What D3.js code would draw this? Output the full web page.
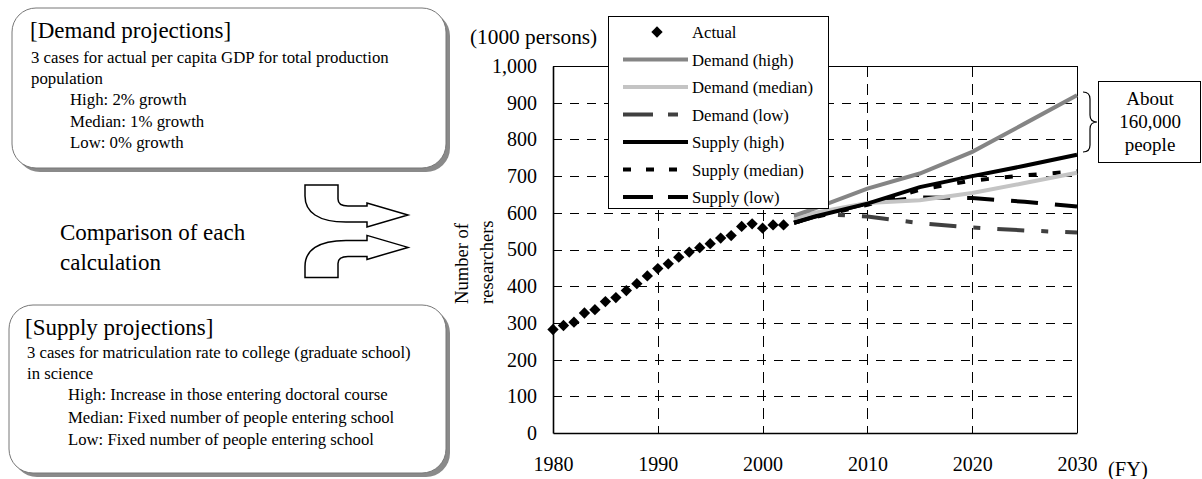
<!DOCTYPE html>
<html>
<head>
<meta charset="utf-8">
<script src="https://cdn.jsdelivr.net/npm/d3@7"></script>
<style>
  body { margin: 0; background: #fff; }
</style>
</head>
<body>
<div id="chart"></div>
<script>
// values (1000 persons)
var actualYears = [1980, 1981, 1982, 1983, 1984, 1985, 1986, 1987, 1988, 1989, 1990, 1991,
                   1992, 1993, 1994, 1995, 1996, 1997, 1998, 1999, 2000, 2001, 2002];
var actualValues = [282, 293, 302, 327, 336, 358, 369, 388, 407, 428, 448, 461,
                    479, 493, 505, 516, 531, 538, 563, 570, 558, 567, 567];

var projYears = [2003, 2005, 2010, 2015, 2020, 2025, 2030];
var demandHigh   = [592, 612, 666, 707, 766, 843, 920];
var demandMedian = [584, 600, 627, 634, 654, 681, 709];
var demandLow    = [593, 597, 590, 572, 560, 552, 546];
var supplyHigh   = [573, 590, 625, 670, 700, 728, 758];
var supplyMedian = [573, 588, 622, 663, 688, 702, 713];
var supplyLow    = [573, 590, 626, 642, 640, 630, 617];

var xTicks = [1980, 1990, 2000, 2010, 2020, 2030];
var yTicks = [0, 100, 200, 300, 400, 500, 600, 700, 800, 900, 1000];

var seriesNames = ["Demand (high)", "Demand (median)", "Demand (low)",
                   "Supply (high)", "Supply (median)", "Supply (low)"];
var seriesValues = [demandHigh, demandMedian, demandLow, supplyHigh, supplyMedian, supplyLow];
var seriesColor = ["#858585", "#c4c4c4", "#404040", "#000", "#000", "#000"];
var seriesDash = [null, null, "27,17,7,17", null, "8,16", "27,17"];
var legendDash = [null, null, "30,15,10,15", null, "8,15", "30,15"];

var FONT = "'Liberation Serif', 'Times New Roman', serif";

var svg = d3.select("#chart").append("svg").attr("width", 1202).attr("height", 479)
    .attr("font-family", FONT);

// ---------- left side boxes ----------
function roundBox(x, y, w, h) {
    svg.append("rect").attr("x", x + 4).attr("y", y + 4).attr("width", w).attr("height", h)
        .attr("rx", 24).attr("fill", "#8a8a8a");
    svg.append("rect").attr("x", x).attr("y", y).attr("width", w).attr("height", h)
        .attr("rx", 24).attr("fill", "#fff").attr("stroke", "#777").attr("stroke-width", 1);
}
roundBox(12, 8, 434, 160);
roundBox(9, 305, 437, 168);

function addText(str, x, y, size) {
    return svg.append("text").text(str).attr("x", x).attr("y", y)
        .style("font-family", FONT).style("font-size", size + "px").attr("fill", "#000");
}
addText("[Demand projections]", 30, 38, 23);
addText("3 cases for actual per capita GDP for total production", 31, 63, 16.8);
addText("population", 31, 84, 16.8);
addText("High: 2% growth", 70, 105, 16.8);
addText("Median: 1% growth", 70, 127, 16.8);
addText("Low: 0% growth", 70, 148, 16.8);

addText("[Supply projections]", 25, 335, 23);
addText("3 cases for matriculation rate to college (graduate school)", 27, 358, 16.7);
addText("in science", 27, 379, 16.7);
addText("High: Increase in those entering doctoral course", 68, 400, 16.7);
addText("Median: Fixed number of people entering school", 68, 423, 16.7);
addText("Low: Fixed number of people entering school", 68, 445, 16.7);

addText("Comparison of each", 60, 240, 23);
addText("calculation", 60, 270, 23);

// bent arrows (lower one mirrored)
var arrowPath = "M305,185 L338,185 L338,199 Q338,206 348,206 L367,206 L367,203 L408,215 " +
                "L367,227 L367,222 L346,222 C318,222 305,212 305,196 Z";
svg.append("path").attr("d", arrowPath).attr("fill", "#fff").attr("stroke", "#000").attr("stroke-width", 1.5);
svg.append("path").attr("d", arrowPath).attr("fill", "#fff").attr("stroke", "#000").attr("stroke-width", 1.5)
    .attr("transform", "translate(0,462.4) scale(1,-1)");

// ---------- chart ----------
var x = d3.scaleLinear().domain([1980, 2030]).range([553, 1077]);
var y = d3.scaleLinear().domain([0, 1000]).range([433, 66]);

var grid = svg.append("g");
grid.selectAll("line.h").data(yTicks.filter(function (d) { return d > 0 && d < 1000; }))
    .enter().append("line")
    .attr("x1", x(1980)).attr("x2", x(2030))
    .attr("y1", function (d) { return Math.round(y(d)) + 0.5; })
    .attr("y2", function (d) { return Math.round(y(d)) + 0.5; })
    .attr("stroke", "#000").attr("stroke-width", 1).attr("stroke-dasharray", "9,8");
grid.selectAll("line.v").data(xTicks.filter(function (d) { return d > 1980 && d < 2030; }))
    .enter().append("line")
    .attr("x1", function (d) { return Math.round(x(d)) + 0.5; })
    .attr("x2", function (d) { return Math.round(x(d)) + 0.5; })
    .attr("y1", y(1000)).attr("y2", y(0))
    .attr("stroke", "#000").attr("stroke-width", 1).attr("stroke-dasharray", "11,7");

// frame top / right
svg.append("line").attr("x1", x(1980)).attr("x2", x(2030)).attr("y1", y(1000) + 0.5).attr("y2", y(1000) + 0.5)
    .attr("stroke", "#000").attr("stroke-width", 1);
svg.append("line").attr("x1", x(2030) + 0.5).attr("x2", x(2030) + 0.5).attr("y1", y(1000)).attr("y2", y(0))
    .attr("stroke", "#000").attr("stroke-width", 1);

var yAxis = d3.axisLeft(y).tickValues(yTicks).tickSize(0).tickPadding(16).tickFormat(d3.format(","));
var yg = svg.append("g").attr("transform", "translate(" + x(1980) + ",0)").call(yAxis);
yg.select(".domain").attr("stroke-width", 1.6);
yg.selectAll("text").style("font-size", "20px").style("font-family", FONT);

var xAxis = d3.axisBottom(x).tickValues(xTicks).tickSize(0).tickPadding(24).tickFormat(d3.format("d"));
var xg = svg.append("g").attr("transform", "translate(0," + y(0) + ")").call(xAxis);
xg.select(".domain").attr("stroke-width", 1.6);
xg.selectAll("text").style("font-size", "20px").style("font-family", FONT);

addText("(1000 persons)", 470, 44, 21.3);
addText("(FY)", 1108, 476, 20.5);

var yl = svg.append("text").attr("transform", "translate(468,304) rotate(-90)")
    .style("font-family", FONT).style("font-size", "18.6px");
yl.append("tspan").attr("x", 0).attr("y", 0).text("Number of");
yl.append("tspan").attr("x", 0).attr("y", 25).text("researchers");

// projection lines
var line = d3.line().x(function (d) { return x(d[0]); }).y(function (d) { return y(d[1]); });
var drawOrder = [2, 5, 4, 1, 3, 0];
drawOrder.forEach(function (i) {
    var pts = projYears.map(function (yr, k) { return [yr, seriesValues[i][k]]; });
    svg.append("path").attr("d", line(pts)).attr("fill", "none")
        .attr("stroke", seriesColor[i]).attr("stroke-width", 4)
        .attr("stroke-dasharray", seriesDash[i]);
});

// actual diamonds
var diamond = d3.symbol().type(d3.symbolSquare).size(64);
svg.selectAll("path.actual").data(actualYears).enter().append("path")
    .attr("class", "actual")
    .attr("d", diamond)
    .attr("fill", "#000")
    .attr("transform", function (d, i) { return "translate(" + x(d) + "," + y(actualValues[i]) + ") rotate(45)"; });

// legend
var lg = svg.append("g");
lg.append("rect").attr("x", 608.5).attr("y", 16.5).attr("width", 220).attr("height", 192)
    .attr("fill", "#fff").attr("stroke", "#000").attr("stroke-width", 1);
var rowY = function (i) { return 32 + i * 27.5; };
lg.append("path").attr("d", diamond).attr("fill", "#000")
    .attr("transform", "translate(657," + rowY(0) + ") rotate(45)");
lg.append("text").text("Actual").attr("x", 692).attr("y", rowY(0) + 6)
    .style("font-family", FONT).style("font-size", "16.7px");
seriesNames.forEach(function (name, i) {
    var ry = rowY(i + 1);
    lg.append("line").attr("x1", 623).attr("x2", 688).attr("y1", ry).attr("y2", ry)
        .attr("stroke", seriesColor[i]).attr("stroke-width", 4)
        .attr("stroke-dasharray", legendDash[i]);
    lg.append("text").text(name).attr("x", 692).attr("y", ry + 6)
        .style("font-family", FONT).style("font-size", "16.7px");
});

// gap annotation
svg.append("path").attr("d", "M1083,92 Q1090,92 1090,99 L1090,115 Q1090,122 1097,122 Q1090,122 1090,129 L1090,145 Q1090,152 1083,152")
    .attr("fill", "none").attr("stroke", "#000").attr("stroke-width", 1.2);
svg.append("rect").attr("x", 1098.5).attr("y", 81.5).attr("width", 102).attr("height", 81)
    .attr("fill", "#fff").attr("stroke", "#000").attr("stroke-width", 1);
["About", "160,000", "people"].forEach(function (t, i) {
    addText(t, 1150, 105 + i * 23, 19).attr("text-anchor", "middle");
});
</script>
</body>
</html>
